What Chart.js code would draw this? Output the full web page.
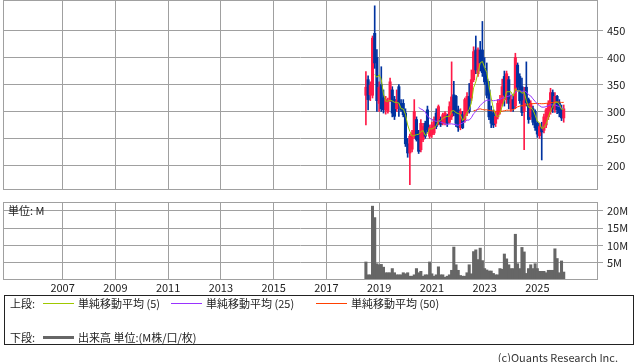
<!DOCTYPE html>
<html>
<head>
<meta charset="utf-8">
<script src="https://cdn.jsdelivr.net/npm/chart.js@4.4.1/dist/chart.umd.min.js"></script>
<style>
  body { margin: 0; background: #fff; font-family: "Noto Sans CJK JP", sans-serif; }
  #wrap { position: relative; width: 638px; height: 362px; overflow: hidden; }
  #price { position: absolute; left: 0; top: 0; }
  #volume { position: absolute; left: 0; top: 196px; }
  .txt { position: absolute; font-size: 11px; line-height: 14px; color: #222; white-space: nowrap; }
  #unit { left: 8px; top: 203px; }
  #legend { position: absolute; left: 4px; top: 295px; width: 630px; height: 50px; border: 1px solid #222; box-sizing: border-box; }
  .sw { position: absolute; width: 31px; }
  #copy { right: 20px; top: 350px; color: #333; }
</style>
</head>
<body>
<div id="wrap">
  <canvas id="price" width="638" height="191"></canvas>
  <canvas id="volume" width="638" height="100"></canvas>
  <div class="txt" id="unit">単位: M</div>
  <div id="legend">
    <div class="txt" style="left:5px;top:0px">上段:</div>
    <div class="sw" style="left:38px;top:7px;height:1px;background:#9fc800"></div>
    <div class="txt" style="left:73px;top:0px">単純移動平均 (5)</div>
    <div class="sw" style="left:166px;top:7px;height:1px;background:#9933ff"></div>
    <div class="txt" style="left:201px;top:0px">単純移動平均 (25)</div>
    <div class="sw" style="left:311px;top:7px;height:1px;background:#ff4000"></div>
    <div class="txt" style="left:346px;top:0px">単純移動平均 (50)</div>
    <div class="txt" style="left:5px;top:34px">下段:</div>
    <div class="sw" style="left:38px;top:40px;height:3px;background:#666"></div>
    <div class="txt" style="left:73px;top:34px">出来高 単位:(M株/口/枚)</div>
  </div>
  <div class="txt" id="copy">(c)Quants Research Inc.</div>
</div>
<script>
const months = [
  '2018-07','2018-08','2018-09','2018-10','2018-11','2018-12',
  '2019-01','2019-02','2019-03','2019-04','2019-05','2019-06','2019-07','2019-08','2019-09','2019-10','2019-11','2019-12',
  '2020-01','2020-02','2020-03','2020-04','2020-05','2020-06','2020-07','2020-08','2020-09','2020-10','2020-11','2020-12',
  '2021-01','2021-02','2021-03','2021-04','2021-05','2021-06','2021-07','2021-08','2021-09','2021-10','2021-11','2021-12',
  '2022-01','2022-02','2022-03','2022-04','2022-05','2022-06','2022-07','2022-08','2022-09','2022-10','2022-11','2022-12',
  '2023-01','2023-02','2023-03','2023-04','2023-05','2023-06','2023-07','2023-08','2023-09','2023-10','2023-11','2023-12',
  '2024-01','2024-02','2024-03','2024-04','2024-05','2024-06','2024-07','2024-08','2024-09','2024-10','2024-11','2024-12',
  '2025-01','2025-02','2025-03','2025-04','2025-05','2025-06','2025-07','2025-08','2025-09','2025-10','2025-11','2025-12',
  '2026-01'
];

const opens = [330,359,331,330,445,400,315,350,325,303,
  300,322,340,322,305,346,315,315,297,240,
  223,230,254,285,260,229,248,278,303,254,
  257,260,297,278,285,278,280,292,280,290,
  331,328,303,270,294,285,297,328,325,359,
  414,370,414,414,380,360,340,300,297,278,
  290,300,315,365,322,359,305,322,310,386,
  365,346,300,345,322,290,305,300,278,255,
  270,265,275,290,300,335,303,328,316,305,
  288];
const highs = [374,366,355,440,496,415,355,383,340,328,
  325,362,346,328,340,350,322,322,305,250,
  258,265,322,290,265,285,278,282,310,275,
  280,290,305,312,290,297,300,295,318,392,
  356,330,310,305,300,325,335,352,377,420,
  440,418,430,467,400,390,356,310,303,300,
  322,330,360,375,375,365,330,330,408,390,
  370,362,345,392,325,320,310,303,282,278,
  280,295,306,320,343,340,335,330,322,312,
  312];
const lows = [275,303,320,325,380,300,300,300,297,295,
  297,318,290,285,300,291,300,290,235,215,
  164,225,250,245,222,225,244,250,262,250,
  252,257,268,275,272,275,275,272,278,285,
  292,272,263,266,268,280,292,297,320,355,
  370,365,375,365,350,325,285,270,270,272,
  286,295,310,310,315,305,300,300,305,340,
  315,292,229,310,278,285,275,265,252,250,
  210,260,270,285,295,298,298,296,290,283,
  280];
const closes = [345,322,349,436,390,320,345,305,303,322,
  320,355,297,291,320,315,303,294,240,223,
  254,260,300,248,226,278,272,254,266,270,
  275,285,272,309,276,294,297,278,309,327,
  297,278,270,300,270,322,328,300,359,411,
  377,414,390,372,355,330,290,278,275,291,
  315,322,346,330,370,315,322,305,400,345,
  320,298,320,316,285,315,280,270,258,272,
  262,290,303,315,335,305,328,303,297,288,
  305];
// 出来高 (M)
const volumes = [5.2,1.5,1.5,21.3,18.0,4.7,4.4,4.5,3.7,2.1,
  2.1,2.1,3.3,2.1,1.5,1.5,1.5,2.1,1.8,2.1,
  1.1,1.1,1.5,3.3,2.1,2.5,1.1,1.5,1.5,5.2,
  1.8,1.1,1.5,3.8,1.5,1.5,0.8,1.1,1.5,2.8,
  9.5,4.4,2.8,1.3,1.1,1.1,2.1,4.4,1.8,8.2,
  8.7,5.9,9.2,5.6,3.3,2.9,2.6,2.6,1.9,1.5,
  1.5,3.3,3.1,7.5,6.1,4.4,3.3,3.3,13.2,4.7,
  3.3,9.4,8.1,1.9,3.3,4.4,3.3,4.7,3.3,2.5,
  2.5,2.5,2.1,2.8,2.8,2.8,9.0,6.2,2.1,5.5,
  2.3];

const yearTicks = [2007, 2009, 2011, 2013, 2015, 2017, 2019, 2021, 2023, 2025];
const priceTicks = [200, 250, 300, 350, 400, 450];
const volumeTicks = [5, 10, 15, 20];
const maPeriods = [5, 25, 50];

const GRID = '#a0a0a0';
const RED = '#ff1a48';
const BLUE = '#0033a0';
const MA_COLORS = ['#9fc800', '#9933ff', '#ff4000'];
const X_MIN = 2004.74, X_MAX = 2027.3;

Chart.defaults.font.family = '"Noto Sans CJK JP", sans-serif';
Chart.defaults.font.size = 11;
Chart.defaults.color = '#222';
Chart.defaults.animation = false;
Chart.defaults.plugins.legend.display = false;
Chart.defaults.plugins.tooltip.enabled = false;

const xs = months.map(m => {
  const [y, mo] = m.split('-').map(Number);
  return y + (mo - 1) / 12;
});
const candleColors = closes.map((c, i) => c >= opens[i] ? RED : BLUE);

function sma(n) {
  return closes.map((c, i) => {
    if (i < n - 1) return { x: xs[i], y: null };
    let sum = 0;
    for (let k = i - n + 1; k <= i; k++) sum += closes[k];
    return { x: xs[i], y: sum / n };
  });
}

// 枠線
const frame = {
  id: 'frame',
  afterDatasetsDraw(chart) {
    const { ctx, chartArea: a } = chart;
    ctx.save();
    ctx.strokeStyle = GRID;
    ctx.lineWidth = 1;
    ctx.strokeRect(Math.round(a.left) + 0.5, Math.round(a.top) + 0.5,
      Math.round(a.right - a.left) - 1, Math.round(a.bottom - a.top) - 1);
    ctx.restore();
  }
};

function xScale(showLabels) {
  return {
    type: 'linear',
    min: X_MIN,
    max: X_MAX,
    offset: false,
    grid: { color: GRID, drawTicks: false, offset: false },
    border: { display: false },
    ticks: { display: showLabels, padding: 1, color: '#222', callback: v => String(v) },
    afterBuildTicks: s => { s.ticks = yearTicks.map(v => ({ value: v })); },
    afterFit: s => { s.height = showLabels ? 16 : 0; s.paddingLeft = 0; s.paddingRight = 0; }
  };
}

function yScale(min, max, ticks, fmt) {
  return {
    position: 'right',
    min: min,
    max: max,
    grid: { color: GRID, tickLength: 5 },
    border: { display: false },
    ticks: { padding: 4, color: '#222', callback: fmt },
    afterBuildTicks: s => { s.ticks = ticks.map(v => ({ value: v })); },
    afterFit: s => { s.width = 40; s.paddingTop = 0; s.paddingBottom = 0; }
  };
}

new Chart(document.getElementById('price'), {
  type: 'bar',
  data: {
    datasets: [
      ...maPeriods.map((n, k) => ({
        type: 'line',
        label: '単純移動平均(' + n + ')',
        data: sma(n),
        borderColor: MA_COLORS[k],
        borderWidth: 1,
        pointRadius: 0,
        tension: 0,
        order: 0
      })),
      {
        type: 'bar',
        label: 'body',
        data: xs.map((x, i) => ({ x, y: [opens[i], closes[i]] })),
        backgroundColor: candleColors,
        barThickness: 2.4,
        grouped: false,
        order: 1
      },
      {
        type: 'bar',
        label: 'wick',
        data: xs.map((x, i) => ({ x, y: [lows[i], highs[i]] })),
        backgroundColor: candleColors,
        barThickness: 1,
        grouped: false,
        order: 2
      }
    ]
  },
  options: {
    responsive: false,
    layout: { padding: { left: 3, top: 0, right: 0, bottom: 1 } },
    scales: {
      x: xScale(false),
      y: yScale(154.3, 506.8, priceTicks, v => String(v))
    }
  },
  plugins: [frame]
});

new Chart(document.getElementById('volume'), {
  type: 'bar',
  data: {
    datasets: [{
      label: '出来高',
      data: xs.map((x, i) => ({ x, y: volumes[i] })),
      backgroundColor: '#666666',
      barThickness: 2.4
    }]
  },
  options: {
    responsive: false,
    layout: { padding: { left: 3, top: 6, right: 0, bottom: 0 } },
    scales: {
      x: xScale(true),
      y: yScale(0, 22.5, volumeTicks, v => v + 'M')
    }
  },
  plugins: [frame]
});
</script>
</body>
</html>
